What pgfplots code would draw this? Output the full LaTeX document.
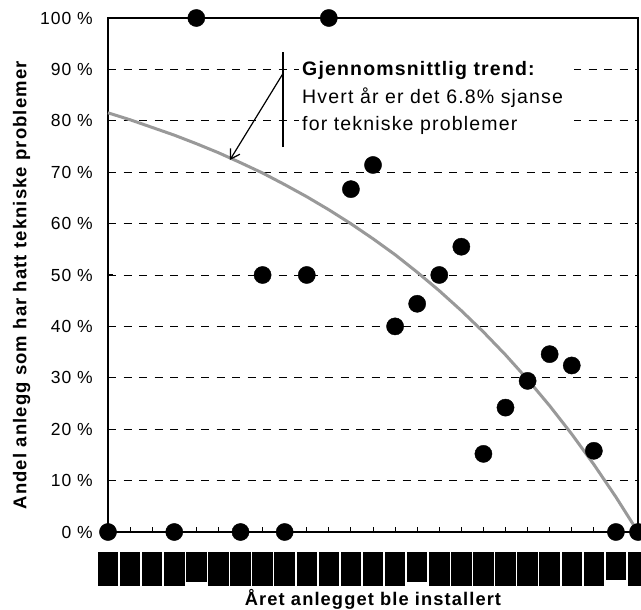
\documentclass[border=0pt]{standalone}
\usepackage{pgfplots}
\pgfplotsset{compat=1.18}
\usetikzlibrary{arrows.meta}
\usepackage{fontspec}
\setmainfont{Liberation Sans}[LetterSpace=6]
\definecolor{trend}{RGB}{153,153,153}
\newcommand\B{\rule{20.5bp}{33.4bp}}
\newcommand\Bs{\rule{20.5bp}{30bp}}
\newcommand\Bt{\rule{20.5bp}{28bp}}

\begin{document}
\begin{tikzpicture}[x=1bp,y=1bp]
\path[use as bounding box] (-108,-78) rectangle (533,532);
\begin{axis}[
  at={(0,0)}, anchor=south west,
  width=530bp, height=514bp, scale only axis,
  xmin=0, xmax=24, ymin=0, ymax=100,
  clip=false,
  axis line style={line width=1.5bp},
  tick align=inside,
  xtick={0,...,24},
  xticklabels={\B,\B,\B,\B,\Bs,\B,\B,\B,\B,\B,\B,\B,\B,\B,\Bs,\B,\B,\B,\B,\B,\B,\B,\B,\Bt,\B},
  xtick pos=bottom,
  xtick style={line width=1bp, black},
  major tick length=5bp,
  xticklabel style={anchor=north, inner sep=0pt, yshift=-20bp},
  ytick={0,10,...,100},
  yticklabels={0~\%,10~\%,20~\%,30~\%,40~\%,50~\%,60~\%,70~\%,80~\%,90~\%,100~\%},
  ytick pos=left,
  ytick style={line width=1bp, black},
  yticklabel style={anchor=east, inner sep=0pt, xshift=-15bp, font=\fontsize{17.5bp}{20bp}\selectfont},
  ymajorgrids,
  major grid style={black, line width=0.9bp, dash pattern=on 8bp off 7.5bp},
  xlabel={Året anlegget ble installert},
  xlabel style={at={(axis description cs:0.5,0)}, anchor=base, yshift=-73bp, inner sep=0pt,
    font=\fontsize{18.3bp}{21bp}\selectfont\bfseries},
  ylabel={Andel anlegg som har hatt tekniske problemer},
  ylabel style={at={(axis description cs:-0.163,0.48)}, anchor=center, inner sep=0pt,
    font=\fontsize{18.5bp}{21bp}\selectfont\bfseries},
]
% trend: 1 - 0.932^(years)
\addplot[trend, line width=3bp, no markers] coordinates {
  (0,81.55) (1,80.20) (2,78.71) (3,77.21) (4,75.55) (5,73.79) (6,71.85)
  (7,69.84) (8,67.59) (9,65.23) (10,62.69) (11,59.97) (12,57.05) (13,53.95)
  (14,50.55) (15,46.94) (16,43.06) (17,38.92) (18,34.46) (19,29.68)
  (20,24.55) (21,19.04) (22,13.14) (23,6.80) (24,0)};
\addplot[only marks, mark=*, mark size=8.6bp, black] coordinates {
  (0,0) (3,0) (4,100) (6,0) (7,50) (8,0) (9,50) (10,100) (11,66.7) (12,71.4)
  (13,40) (14,44.4) (15,50) (16,55.5) (17,15.2) (18,24.2) (19,29.4)
  (20,34.6) (21,32.4) (22,15.8) (23,0) (24,0)};

\fill[white] (rel axis cs:0.360,0.763) rectangle (rel axis cs:0.880,0.928);
\draw[line width=1.2bp] (rel axis cs:0.330,0.749) -- (rel axis cs:0.330,0.934);
\draw[line width=1.2bp, -{Straight Barb[length=9bp,width=11bp]}]
  (rel axis cs:0.3296,0.891) -- (rel axis cs:0.230,0.7237);
\begin{scope}[every node/.style={anchor=base west, inner sep=0pt, font=\fontsize{19.5bp}{23bp}\selectfont}]
\node at (rel axis cs:0.366,0.889) {\bfseries Gjennomsnittlig trend:};
\node at (rel axis cs:0.366,0.834) {Hvert år er det 6.8\% sjanse};
\node at (rel axis cs:0.366,0.782) {for tekniske problemer};
\end{scope}
\end{axis}
\end{tikzpicture}
\end{document}
